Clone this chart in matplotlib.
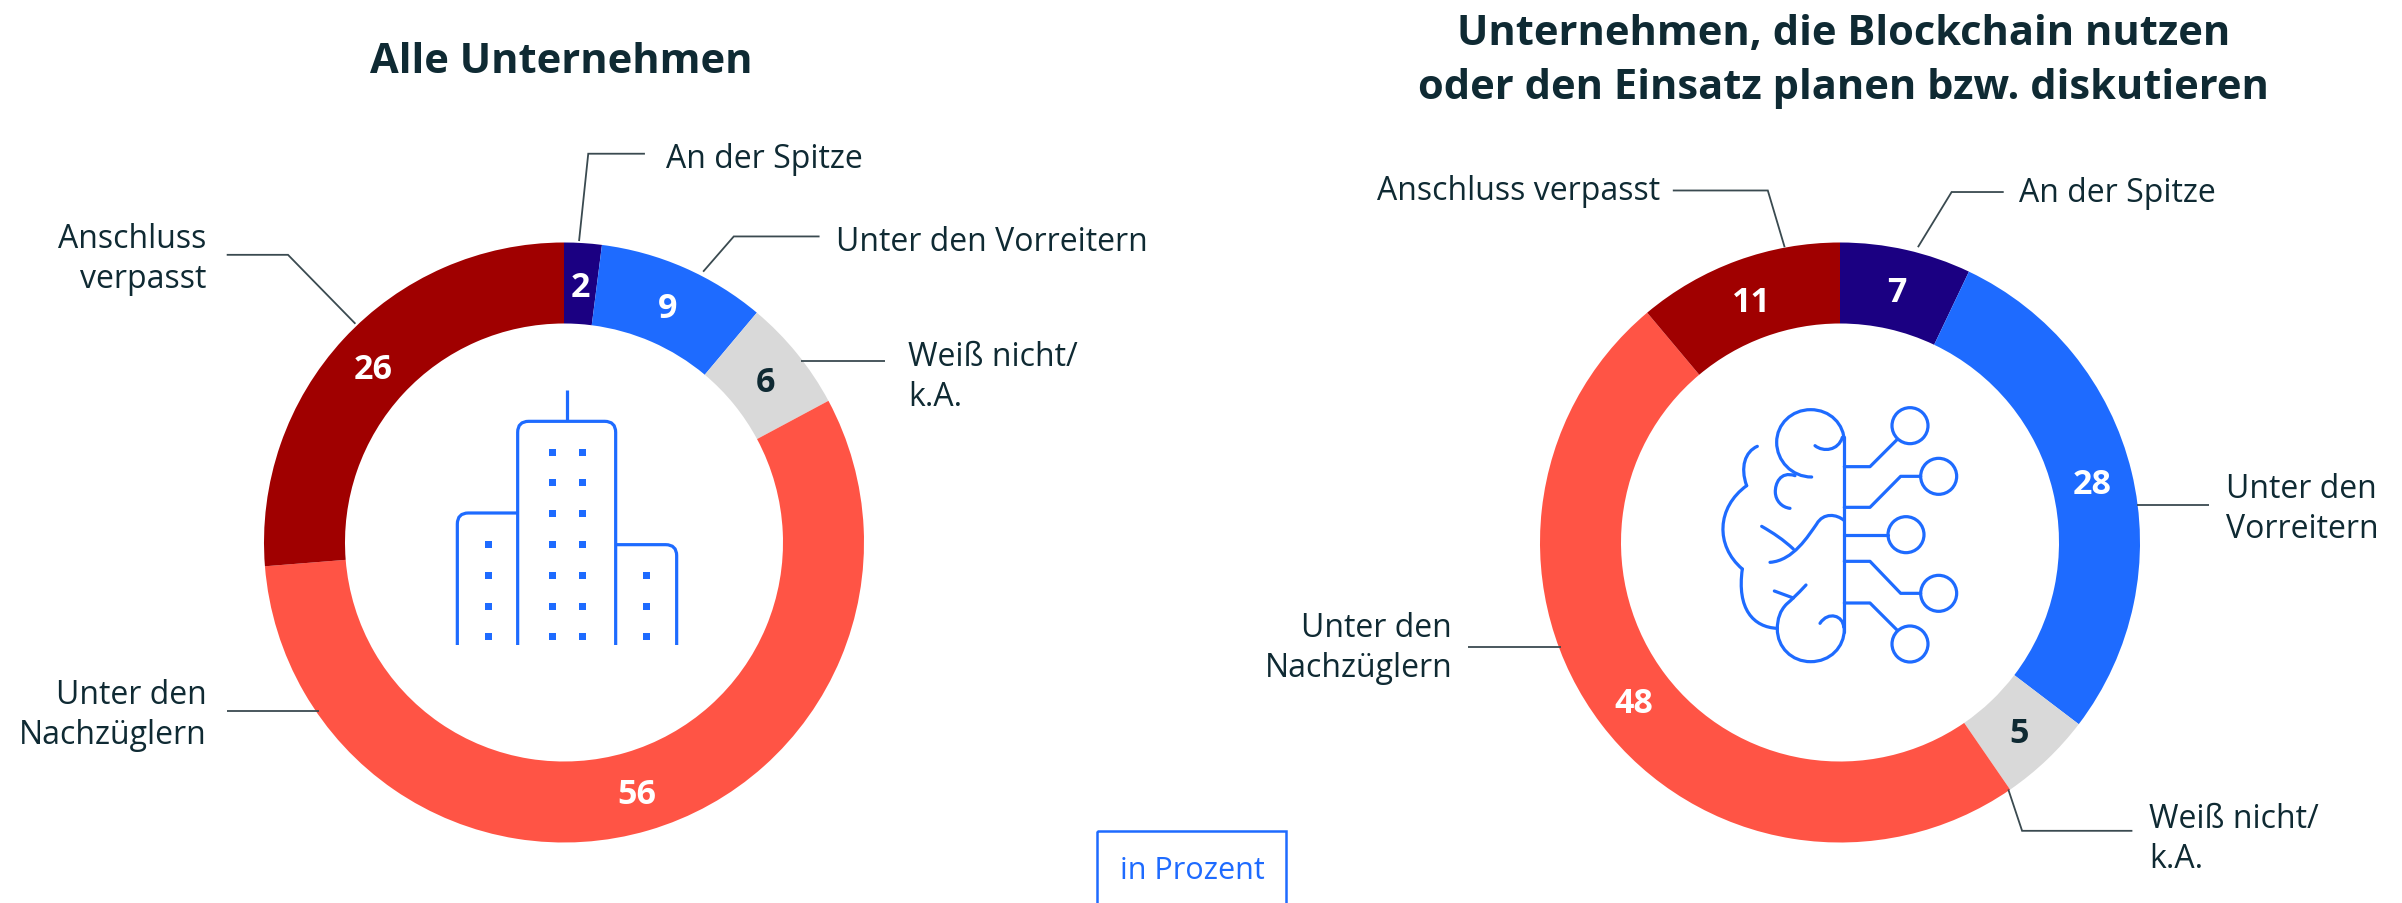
import numpy as np
import matplotlib
matplotlib.use("Agg")
import matplotlib.pyplot as plt
from matplotlib.path import Path
from matplotlib.patches import PathPatch, Circle, Rectangle

W, H = 2402, 904
FONT = "Open Sans"
plt.rcParams["font.family"] = [FONT, "DejaVu Sans"]

categories = ["An der Spitze", "Unter den Vorreitern", "Weiß nicht/k.A.",
              "Unter den Nachzüglern", "Anschluss verpasst"]
values_all = [2, 9, 6, 56, 26]
values_blockchain = [7, 28, 5, 48, 11]
title_all = "Alle Unternehmen"
title_blockchain = "Unternehmen, die Blockchain nutzen\noder den Einsatz planen bzw. diskutieren"
unit_label = "in Prozent"

colors = ["#1B0082", "#1E6BFF", "#D9D9D9", "#FF5445", "#A00000"]
value_colors = ["white", "white", "#0F2A33", "white", "white"]
INK = "#0F2A33"
BLUE = "#1E6BFF"
GREY = "#3A4A50"

fig = plt.figure(figsize=(W / 100, H / 100), dpi=100, facecolor="white")
R_OUT, R_IN = 300, 219
CY = 543.5
TEXT_DY = 3.5


def donut(cx, values):
    ax = fig.add_axes([(cx - R_OUT) / W, 1 - (CY + R_OUT) / H, 2 * R_OUT / W, 2 * R_OUT / H])
    ax.pie(values, colors=colors, startangle=90, counterclock=False, radius=1,
           wedgeprops=dict(width=1 - R_IN / R_OUT, linewidth=0))
    ax.set_xlim(-1, 1)
    ax.set_ylim(-1, 1)
    ax.set_aspect("equal")
    total = sum(values)
    cum = 0
    mid_r = (1 + R_IN / R_OUT) / 2
    for v, c in zip(values, value_colors):
        a = np.deg2rad(90 - (cum + v / 2) / total * 360)
        ax.text(mid_r * np.cos(a), mid_r * np.sin(a) - 3 / R_OUT, str(v), ha="center", va="center",
                fontsize=24.5, fontweight="bold", color=c)
        cum += v


donut(564, values_all)
donut(1840, values_blockchain)

ov = fig.add_axes([0, 0, 1, 1], facecolor="none")
ov.set_xlim(0, W)
ov.set_ylim(H, 0)
ov.axis("off")

S = 2402 / 1568


def leader(*pts):
    p = np.array(pts) * S
    ov.plot(p[:, 0], p[:, 1], color=GREY, lw=1.3, solid_capstyle="butt", solid_joinstyle="miter")


leader((378, 158), (384, 101), (421, 101))
leader((459, 178), (479, 155), (535, 155))
leader((523, 236), (578, 236))
leader((208, 465), (148, 465))
leader((232, 212), (188, 167), (148, 167))
leader((1252, 162), (1274, 126), (1308, 126))
leader((1165, 162), (1154, 125), (1092, 125))
leader((1395, 330), (1442, 330))
leader((1311, 516), (1320, 543), (1392, 543))
leader((1019, 423), (958, 423))


def label(x, y, s, ha="left"):
    ov.text(x * S, y * S + TEXT_DY, s, ha=ha, va="center", fontsize=23, color=INK, linespacing=1.28)


label(435, 102, categories[0])
label(546, 156, categories[1])
label(593, 244, "Weiß nicht/\nk.A.")
label(135, 465, "Unter den\nNachzüglern", ha="right")
label(135, 167, "Anschluss\nverpasst", ha="right")
label(1318, 124, categories[0])
label(1084, 123, categories[4], ha="right")
label(1453, 330, "Unter den\nVorreitern")
label(1403, 546, "Weiß nicht/\nk.A.")
label(948, 421, "Unter den\nNachzüglern", ha="right")

ov.text(366.5 * S, 41 * S, title_all, ha="center", va="center", fontsize=30, fontweight="bold", color=INK)
ov.text(1203.5 * S, 40 * S, title_blockchain, ha="center", va="center", fontsize=30,
        fontweight="bold", color=INK, linespacing=1.42)

# unit box, running off the lower edge
ov.add_patch(Rectangle((1097, 832), 189, 90, fill=False, ec=BLUE, lw=1.8, clip_on=True))
ov.text(1192, 871, unit_label, ha="center", va="center", fontsize=22, color=BLUE)

# building icon (drawn in zoom-crop units)
bx = lambda x: 400 + x / 3
by = lambda y: 350 + y / 3
ICON_LW = 2.3


def stroke(verts, codes=None, tx=bx, ty=by, cap="butt"):
    v = [(tx(a), ty(b)) for a, b in verts]
    ov.add_patch(PathPatch(Path(v, codes), fill=False, ec=BLUE, lw=ICON_LW, capstyle=cap, joinstyle="round"))


M, L, Q, C = Path.MOVETO, Path.LINETO, Path.CURVE3, Path.CURVE4
stroke([(353, 888), (353, 250), (353, 217), (386, 217), (614, 217), (647, 217), (647, 250), (647, 888)],
       [M, L, Q, Q, L, Q, Q, L])
stroke([(500, 122), (500, 217)])
stroke([(172, 888), (172, 525), (172, 492), (205, 492), (353, 492)], [M, L, Q, Q, L])
stroke([(647, 587), (797, 587), (830, 587), (830, 620), (830, 888)], [M, L, Q, Q, L])
wx, wy = [], []
rows = [308, 400, 493, 585, 678, 770, 862]
for x in (456, 545):
    for y in rows:
        wx.append(bx(x)); wy.append(by(y))
for y in rows[3:]:
    wx.append(bx(263)); wy.append(by(y))
for y in rows[4:]:
    wx.append(bx(738)); wy.append(by(y))
ov.scatter(wx, wy, marker="s", s=(7 * 0.72) ** 2, color=BLUE, linewidths=0)

# brain icon
tx = lambda x: 1680 + x / 3
ty = lambda y: 380 + y / 3


def bcurve(pts):
    # pts: start then triples of cubic bezier points
    codes = [M] + [C] * (len(pts) - 1)
    stroke(pts, codes, tx, ty, cap="round")


def line(*pts):
    stroke(list(pts), None, tx, ty, cap="round")


line((493, 175), (493, 760))
bcurve([(395, 294), (335, 294), (290, 245), (290, 190), (290, 135), (335, 92), (392, 92),
        (450, 92), (493, 135), (493, 190)])
bcurve([(405, 200), (430, 220), (475, 215), (487, 175)])
bcurve([(345, 290), (300, 275), (285, 315), (286, 340), (287, 365), (305, 385), (330, 388)])
bcurve([(232, 202), (195, 218), (180, 265), (200, 320)])
bcurve([(200, 320), (110, 385), (105, 500), (187, 570)])
bcurve([(187, 570), (170, 690), (220, 745), (292, 748)])
bcurve([(378, 618), (350, 648), (335, 662), (320, 675), (300, 695), (292, 720), (292, 750),
        (292, 805), (335, 848), (392, 848), (450, 848), (493, 805), (493, 750)])
bcurve([(420, 733), (445, 695), (490, 710), (491, 745)])
line((283, 636), (340, 657))
bcurve([(245, 442), (280, 462), (310, 482), (340, 510)])
bcurve([(270, 550), (340, 545), (385, 470), (410, 435), (430, 400), (470, 405), (493, 425)])
line((493, 263), (570, 263), (650, 183))
line((493, 385), (570, 385), (662, 292), (722, 292))
line((493, 467), (625, 467))
line((493, 547), (570, 547), (662, 643), (722, 643))
line((493, 672), (570, 672), (650, 752))
for x, y in [(690, 140), (776, 292), (678, 467), (776, 643), (690, 795)]:
    ov.add_patch(Circle((tx(x), ty(y)), 54 / 3, fill=False, ec=BLUE, lw=ICON_LW))

fig.savefig("out.png", dpi=100, facecolor="white")
